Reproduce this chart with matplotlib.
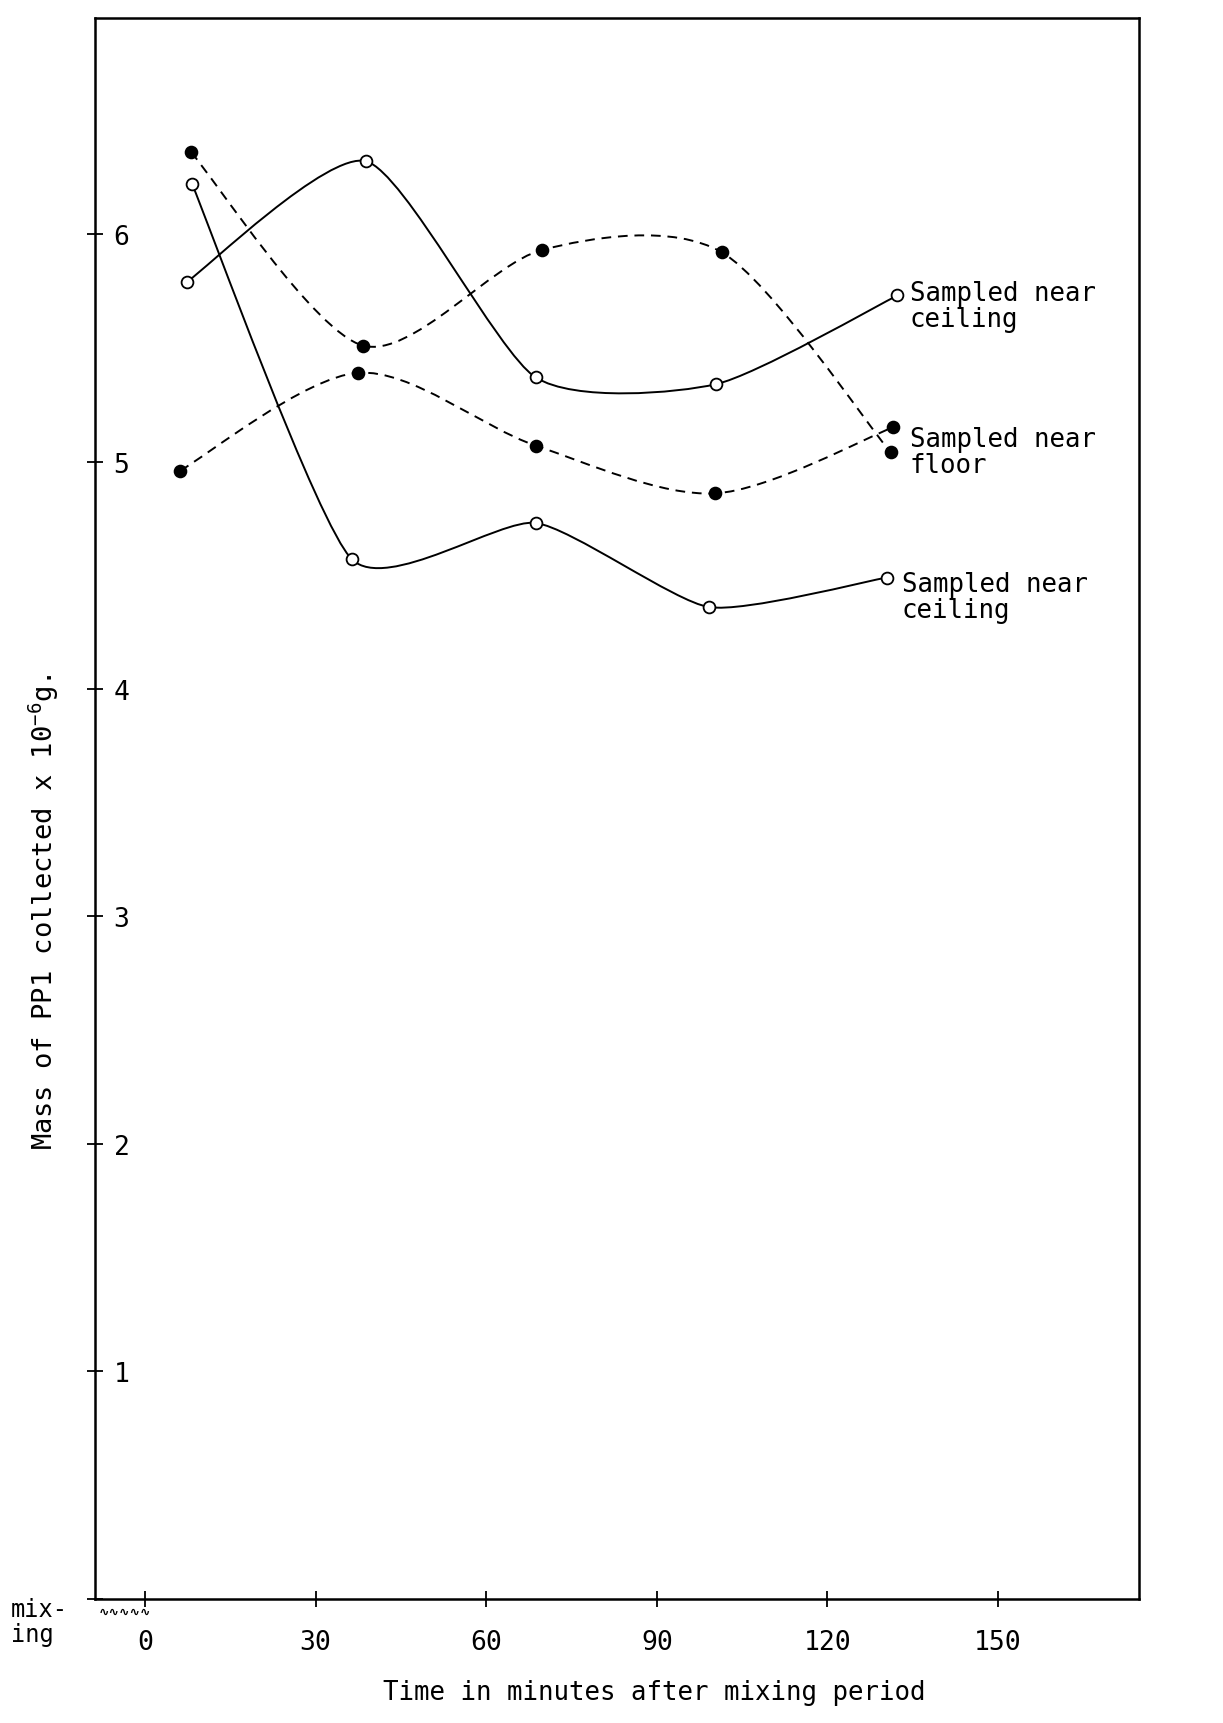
import numpy as np
import matplotlib.pyplot as plt
from matplotlib.path import Path
from matplotlib.patches import PathPatch

plt.rcParams['font.family'] = ['DejaVu Sans Mono', 'DejaVu Sans']
plt.rcParams['mathtext.fontset'] = 'custom'
plt.rcParams['mathtext.rm'] = 'DejaVu Sans Mono'
plt.rcParams['mathtext.default'] = 'rm'

# values (minutes after mixing, mass x 1e-6 g)
ceiling_top_t = [7.4, 38.9, 68.7, 100.4, 132.3]
ceiling_top_m = [5.79, 6.32, 5.37, 5.34, 5.73]
ceiling_low_t = [8.3, 36.4, 68.7, 99.2, 130.4]
ceiling_low_m = [6.22, 4.57, 4.73, 4.36, 4.49]
floor_a_t = [8.1, 38.3, 69.8, 101.4, 131.1]
floor_a_m = [6.36, 5.51, 5.93, 5.92, 5.04]
floor_b_t = [6.2, 37.5, 68.7, 100.2, 131.5]
floor_b_m = [4.96, 5.39, 5.07, 4.86, 5.15]

x_ticks = [0, 30, 60, 90, 120, 150]
y_ticks = [0, 1, 2, 3, 4, 5, 6]
y_ticklabels = ['', '1', '2', '3', '4', '5', '6']


def smooth_path(x, y, k):
    """Catmull-Rom style curve through the points (k = tangent scale)."""
    pts = np.column_stack([x, y]).astype(float)
    n = len(pts)
    verts = [pts[0]]
    codes = [Path.MOVETO]
    for i in range(n - 1):
        p0 = pts[i - 1] if i > 0 else pts[i]
        p1 = pts[i]
        p2 = pts[i + 1]
        p3 = pts[i + 2] if i + 2 < n else pts[i + 1]
        verts += [p1 + (p2 - p0) * k, p2 - (p3 - p1) * k, p2]
        codes += [Path.CURVE4] * 3
    return Path(verts, codes)


fig = plt.figure(figsize=(12.23, 17.24), dpi=100)
ax = fig.add_axes([0.078, 0.072, 0.853, 0.917])

series = [
    (ceiling_top_t, ceiling_top_m, '-', 'white', 0.11),
    (ceiling_low_t, ceiling_low_m, '-', 'white', 0.10),
    (floor_a_t, floor_a_m, (0, (5, 3.5)), 'black', 0.14),
    (floor_b_t, floor_b_m, (0, (5, 3.5)), 'black', 0.15),
]
for t, m, ls, face, k in series:
    ax.add_patch(PathPatch(smooth_path(t, m, k), fill=False, lw=1.4,
                           ls=ls, ec='black', transform=ax.transData))
    ax.plot(t, m, 'o', ms=8.5, mfc=face, mec='black', mew=1.3, zorder=3)

# labels next to the last points
ax.annotate('Sampled near\nceiling', xy=(ceiling_top_t[-1], ceiling_top_m[-1]),
            xytext=(9, 11), textcoords='offset points', ha='left', va='top',
            fontsize=18.5, linespacing=1.0)
ax.annotate('Sampled near\nfloor', xy=(floor_b_t[-1], floor_b_m[-1]),
            xytext=(12, 1), textcoords='offset points', ha='left', va='top',
            fontsize=18.5, linespacing=1.0)
ax.annotate('Sampled near\nceiling', xy=(ceiling_low_t[-1], ceiling_low_m[-1]),
            xytext=(11, 5), textcoords='offset points', ha='left', va='top',
            fontsize=18.5, linespacing=1.0)

ax.set_xlim(-8.7, 174.7)
ax.set_ylim(0, 6.95)
ax.set_xticks(x_ticks)
ax.set_yticks(y_ticks)
ax.set_yticklabels(y_ticklabels)
ax.tick_params(axis='both', direction='inout', length=11, width=1.3,
               labelsize=19)
ax.tick_params(axis='y', pad=-30)
ax.tick_params(axis='x', pad=16)
for s in ax.spines.values():
    s.set_linewidth(1.8)

fig.text(0.036, 0.471, 'Mass of PP1 collected x 10$^{-6}$g.', rotation=90,
         ha='center', va='center', fontsize=19.5)
fig.text(0.535, 0.018, 'Time in minutes after mixing period', ha='center',
         va='center', fontsize=18.5)

# mixing period marker left of zero
fig.text(0.009, 0.059, 'mix-\ning', ha='left', va='center', fontsize=17,
         linespacing=1.05)
ax.annotate('∿∿∿∿∿', xy=(-8.2, 0), xycoords=('data', 'axes fraction'),
            xytext=(0, -4), textcoords='offset points', ha='left', va='top',
            fontsize=9, fontweight='bold', family=['DejaVu Sans'])

fig.savefig('out.png', dpi=100, facecolor='white')
